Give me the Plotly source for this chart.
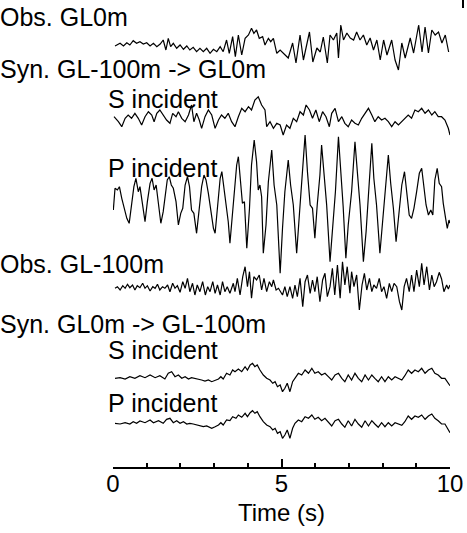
import plotly.graph_objects as go

# ---------------- data (time in s, amplitude in arbitrary units) ----------------
t_obs0 = [0.06,0.11,0.21,0.31,0.41,0.50,0.60,0.70,0.80,0.90,1.00,1.10,1.20,1.30,1.40,1.49,1.57,1.64,1.71,1.79,
          1.89,1.99,2.09,2.19,2.28,2.38,2.48,2.58,2.68,2.78,2.88,2.98,3.08,3.18,3.27,3.37,3.45,3.55,3.63,3.72,
          3.82,3.92,4.02,4.11,4.18,4.26,4.34,4.44,4.51,4.61,4.68,4.76,4.86,4.96,5.06,5.20,5.33,5.43,5.55,5.65,
          5.83,5.93,6.05,6.15,6.24,6.36,6.44,6.54,6.64,6.69,6.76,6.84,6.94,7.04,7.14,7.23,7.33,7.43,7.53,7.63,
          7.73,7.83,7.93,8.03,8.13,8.27,8.37,8.47,8.57,8.67,8.82,8.92,9.07,9.17,9.26,9.36,9.46,9.56,9.66,9.76,
          9.86,9.96]
a_obs0 = [-1,0,1.7,-1,2.3,0,4.3,1.7,3.3,1,2.3,-1,1.7,-1.7,1,5,-5,6.7,-1.7,1.7,
          -3.3,0,-4.3,-1,-5,-2.3,-6.7,-3.3,-6.7,-3.3,-8.3,-4.3,-6.7,-1.7,-6.7,5,-8.3,8.3,-11.7,10,
          -10,6.7,10,16.7,11.7,15,6.7,8.3,0,6.7,3.3,6.7,-8.3,-5,-8,-13,2,-18,10,-15,
          13,-17,-3,-7,8,-18,10,5,12,-13,20,5,12,7,5,13,5,10,0,7,
          -5,5,-15,5,-10,5,-15,-25,2,-13,7,-8,20,-7,18,-8,15,10,13,2,
          10,-7]

t_synS0 = [0.03,0.16,0.26,0.36,0.45,0.55,0.65,0.75,0.85,0.95,1.05,1.15,1.22,1.30,1.39,1.49,1.59,1.69,1.77,1.87,
           1.94,2.04,2.14,2.24,2.33,2.40,2.48,2.56,2.63,2.73,2.83,2.93,3.03,3.13,3.22,3.32,3.42,3.52,3.62,3.72,
           3.82,3.92,4.02,4.11,4.21,4.31,4.41,4.51,4.56,4.66,4.76,4.86,4.96,5.05,5.15,5.25,5.35,5.45,5.55,5.65,
           5.73,5.83,5.92,6.02,6.12,6.22,6.32,6.42,6.49,6.59,6.69,6.79,6.88,6.98,7.08,7.18,7.28,7.38,7.48,7.58,
           7.68,7.77,7.87,7.97,8.07,8.17,8.27,8.37,8.47,8.57,8.66,8.76,8.86,8.96,9.06,9.16,9.26,9.36,9.46,9.55,
           9.65,9.75,9.85,9.95,10.0]
a_synS0 = [1.3,-3.7,-8.7,-0.3,3,-0.3,4.7,-0.3,-7,1.3,6.3,3,-3.7,4.7,8,3,-2,-5.3,4.7,1.3,
           6.3,-0.3,-3.7,3,13,-3.7,4.7,-2,-10.3,1.3,8,3,-10.3,-2,3,-0.3,4.7,-3.7,-8.7,1.3,
           9.7,6.3,11.3,8,18,21.3,13,8,-8.7,-3.7,-10.3,-5.3,-7,-17,-7,-10.3,-0.3,-3.7,6.3,3,
           13,8,-0.3,8,-3.7,6.3,1.3,-8.7,4.7,9.7,-3.7,1.3,-5.3,-8.7,-2,-5.3,-7,-0.3,4.7,9.7,
           3,-3.7,1.3,-2,-0.3,-3.7,-8.7,-3.7,-7,-3.7,-0.3,3,-0.3,8,6.3,9.7,4.7,8,3,6.3,
           1.3,1.3,-2,-10.3,-17]

t_synP0 = [0.01,0.06,0.13,0.19,0.26,0.33,0.41,0.48,0.55,0.62,0.68,0.75,0.80,0.88,0.95,1.02,1.10,1.16,1.22,1.28,
           1.35,1.42,1.49,1.54,1.61,1.67,1.73,1.79,1.87,1.94,2.01,2.07,2.14,2.21,2.27,2.33,2.40,2.48,2.56,2.63,
           2.70,2.76,2.83,2.90,2.98,3.03,3.10,3.18,3.23,3.29,3.35,3.42,3.47,3.55,3.62,3.67,3.72,3.77,3.84,3.90,
           3.97,4.05,4.11,4.19,4.26,4.31,4.36,4.41,4.46,4.54,4.61,4.71,4.78,4.86,4.96,5.03,5.10,5.20,5.27,5.35,
           5.45,5.53,5.60,5.70,5.77,5.85,5.92,5.99,6.06,6.14,6.19,6.26,6.34,6.44,6.52,6.60,6.69,6.76,6.83,6.91,
           6.98,7.08,7.18,7.25,7.33,7.43,7.51,7.58,7.68,7.74,7.82,7.92,8.00,8.07,8.17,8.24,8.32,8.40,8.47,8.57,
           8.65,8.71,8.79,8.86,8.93,9.01,9.09,9.16,9.23,9.29,9.36,9.43,9.49,9.55,9.62,9.68,9.75,9.80,9.87,9.92,
           9.97,10.0]
a_synP0 = [-10,11.7,10,13.3,1.7,-8.3,-18.3,-23.3,-5,13.3,21.7,8.3,13.3,-6.7,-21.7,-1.7,16.7,21.7,10,15,
           -5,-23.3,-11.7,1.7,20,23.3,15,11.7,-1.7,-25,-13.3,-8.3,15,23.3,13.3,-10,-13.3,-33.3,-10,13.3,
           25,20,6.7,-8.3,-28.3,-33.3,-10,21.7,28.3,13.3,-1.7,-21.7,-43.3,-8.3,13.3,35,43.3,25,-3.3,-1.7,
           -48.3,-8.3,35,60,38.3,10,15,3.3,-53.3,-25,18.3,50,15,-5,-73.3,-28.3,8.3,40,15,-5,
           -53.3,-15,15,65,28.3,-5,-8.3,-38.3,-5,25,55,25,-5,-61.7,-25,8.3,63.3,28.3,-6.7,-58.3,
           -25,8.3,58.3,28.3,-5,-61.7,-31.7,5,56.7,21.7,-5,-53.3,-21.7,5,45,16.7,-8.3,-41.7,-15,15,
           28.3,8.3,-15,-18.3,-8.3,8.3,26.7,31.7,13.3,-5,-15,-10,-15,20,31.7,16.7,13.3,-3.3,-18.3,-28.3,
           -20,-23.3]

t_obs100 = [0.06,0.13,0.21,0.29,0.36,0.43,0.50,0.58,0.65,0.72,0.80,0.88,0.95,1.02,1.10,1.18,1.25,1.32,1.39,1.47,
            1.54,1.62,1.69,1.77,1.84,1.91,1.99,2.07,2.14,2.21,2.28,2.36,2.43,2.50,2.58,2.66,2.74,2.81,2.88,2.96,
            3.03,3.10,3.18,3.25,3.32,3.39,3.47,3.57,3.62,3.69,3.77,3.85,3.92,3.99,4.05,4.11,4.18,4.26,4.34,4.41,
            4.48,4.56,4.64,4.71,4.76,4.84,4.91,5.03,5.10,5.17,5.25,5.33,5.40,5.47,5.55,5.63,5.70,5.77,5.85,5.92,
            5.99,6.06,6.14,6.22,6.29,6.36,6.44,6.51,6.58,6.66,6.74,6.81,6.88,6.95,7.03,7.08,7.15,7.23,7.31,7.39,
            7.46,7.53,7.61,7.68,7.74,7.82,7.90,7.97,8.04,8.12,8.20,8.27,8.34,8.42,8.50,8.57,8.64,8.71,8.79,8.86,
            8.93,9.01,9.09,9.16,9.23,9.31,9.39,9.46,9.53,9.60,9.68,9.75,9.82,9.90,9.95,10.0]
a_obs100 = [-0.3,1.3,-2,2.3,-0.3,3.7,0.3,3,-2,2.3,0.3,4.7,-0.3,2.3,-3,1.3,-0.3,3.7,-2,1.3,
            -0.3,3,-3.7,4.7,-0.3,2.3,-4.3,6.3,-0.3,9.7,-3.7,4.7,-7,3,-3.7,6.3,-7,1.3,-3.7,6.3,
            -5.3,3,-7,6.3,-3.7,1.3,-5.3,4.7,-3.7,9.7,-7,11.3,21.3,1.3,16.3,-10.3,11.3,8,13,-2,
            9.7,-3.7,6.3,1.3,8,-2,-0.3,-7,1.3,-8.7,1.3,-10.3,3,-8.7,9.7,-18.7,6.3,13,-5.3,8,
            -3.7,11.3,-13.7,8,14.7,-8.7,1.3,19.7,-7,23,-10.3,26.3,3,21.3,-5.3,16.3,1.3,13,-22,3,
            14.7,-2,9.7,-3.7,3,-0.3,9.7,-3.7,1.3,-10.3,4.7,-3.7,4.7,1.3,-13.7,-22,1.3,9.7,-3.7,13,
            -3.7,18,1.3,24.7,3,21.3,-2,13,1.3,6.3,15.7,9,-3.7,3,-1,3]

t_synS100 = [0.06,0.21,0.36,0.50,0.65,0.80,0.95,1.10,1.25,1.39,1.54,1.64,1.74,1.84,1.94,2.04,2.14,2.24,2.33,2.43,
             2.53,2.63,2.73,2.83,2.93,3.03,3.13,3.20,3.27,3.37,3.47,3.55,3.62,3.72,3.82,3.92,3.99,4.07,4.14,4.21,
             4.28,4.36,4.46,4.56,4.66,4.74,4.81,4.88,4.96,5.03,5.10,5.17,5.25,5.33,5.40,5.50,5.60,5.70,5.80,5.90,
             5.99,6.09,6.19,6.29,6.39,6.49,6.59,6.69,6.79,6.88,6.98,7.08,7.18,7.28,7.38,7.48,7.58,7.68,7.77,7.87,
             7.97,8.07,8.17,8.27,8.37,8.47,8.57,8.66,8.76,8.86,8.96,9.06,9.16,9.26,9.36,9.46,9.55,9.65,9.75,9.85,
             9.95,10.0]
a_synS100 = [-0.3,0.3,-1,1.3,-0.3,2.3,0.3,3,0.3,2.3,-1,4.7,6.3,1.3,3,-0.3,1.3,-1,0.3,-0.3,
             -1,-2,-3,-2,-3.7,-2,-1,1.3,-1,4.7,3,8,6.3,9,6.3,11.3,8,13,14.7,11.3,
             13,8,3,-0.3,-2,-5.3,-3.7,-8.7,-7,-13.7,-10.3,-5.3,-13.7,-3.7,-0.3,4.7,3,8,4.7,9.7,
             4.7,6.3,3,4.7,1.3,-2,3,4.7,-0.3,-3.7,3,-2,4.7,-0.3,-3.7,3,-2,3,-0.3,-3.7,
             1.3,-3.7,1.3,-2,1.3,-0.3,-2,2.3,8,4.7,8,6.3,9.7,4.7,8,9.7,4.7,3,-0.3,-0.3,
             -5.3,-7.7]

t_synP100 = [0.06,0.21,0.36,0.50,0.60,0.70,0.80,0.95,1.10,1.20,1.35,1.49,1.59,1.69,1.79,1.89,1.99,2.09,2.19,2.28,
             2.38,2.53,2.68,2.78,2.93,3.03,3.13,3.20,3.27,3.37,3.47,3.55,3.65,3.72,3.82,3.92,3.99,4.07,4.14,4.21,
             4.28,4.36,4.46,4.56,4.66,4.74,4.81,4.88,4.96,5.03,5.10,5.17,5.25,5.33,5.40,5.50,5.60,5.70,5.80,5.90,
             5.99,6.09,6.19,6.29,6.39,6.49,6.59,6.69,6.79,6.88,6.98,7.08,7.18,7.28,7.38,7.48,7.58,7.68,7.77,7.87,
             7.97,8.07,8.17,8.27,8.37,8.47,8.57,8.66,8.76,8.86,8.96,9.06,9.16,9.26,9.36,9.46,9.55,9.65,9.75,9.85,
             9.95,10.0]
a_synP100 = [0.7,0,1.3,0,2.3,0.7,3,1.3,4,1.3,3.3,0.7,4.7,5.7,1.3,3.3,0.7,2.3,0,0.7,
             0,-1,-2.7,-2,-4.3,-2.7,-1,1.3,-1,4,3.3,7.3,5.7,9,6.7,10.7,7.3,11.3,13.3,10.7,
             12.3,7.3,2.3,-1,-2.7,-6,-4.3,-9.3,-7.7,-14.3,-11,-6,-14.3,-4.3,0.7,4,2.3,7.3,5.7,9,
             4.7,6.7,3.3,5.7,1.3,-2,3.3,4.7,0,-3.3,3.3,-2,4.7,0,-3.3,3.3,-2,3.3,0,-3.3,
             1.3,-2.7,1.3,-2,1.3,0,-1.3,2.3,8,4.7,8,6.7,9,4.7,8,10,5.7,3.3,0,0,
             -5.3,-8.7]

traces = [(t_obs0, a_obs0), (t_synS0, a_synS0), (t_synP0, a_synP0),
          (t_obs100, a_obs100), (t_synS100, a_synS100), (t_synP100, a_synP100)]

labels = ["Obs. GL0m", "Syn. GL-100m -> GL0m", "S incident", "P incident",
          "Obs. GL-100m", "Syn. GL0m -> GL-100m", "S incident", "P incident"]

x_ticks = [0, 5, 10]
x_title = "Time (s)"

# ---------------- layout constants ----------------
W, H = 467, 533
ML, MR, MT, MB = 113, 17, 0, 66
PH = H - MT - MB           # plot height in px; y axis in px units (up)
PW = W - ML - MR
baselines_px = [45, 118, 200, 288, 378, 424]
label_pos = [(-2, 17.5), (-2, 68.5), (105.5, 98.5), (105.5, 168.5),
             (-2, 263.5), (-2, 324), (105.5, 349.5), (105.5, 403)]
FONT = "Liberation Sans, Arial, Helvetica, sans-serif"
FS = 25


def px_x(px):
    return (px - ML) / PW


def px_y(py):
    return (PH - py) / PH


fig = go.Figure()
for (t, a), b in zip(traces, baselines_px):
    off = PH - b
    fig.add_trace(go.Scatter(x=t, y=[off + v for v in a], mode="lines",
                             line=dict(color="black", width=1.2),
                             hoverinfo="skip", showlegend=False))

for txt, (px, py) in zip(labels, label_pos):
    fig.add_annotation(text=txt, xref="paper", yref="paper",
                       x=px_x(px), y=px_y(py), xanchor="left", yanchor="middle",
                       showarrow=False, font=dict(family=FONT, size=FS, color="black"))

fig.add_annotation(text=x_title, xref="paper", yref="paper", x=0.5, y=px_y(512),
                   xanchor="center", yanchor="middle", showarrow=False,
                   font=dict(family=FONT, size=FS - 1, color="black"))

# small mark at top-right corner
fig.add_shape(type="line", xref="paper", yref="paper", x0=px_x(463), x1=px_x(463),
              y0=px_y(0), y1=px_y(8), line=dict(color="black", width=2))

fig.update_layout(
    width=W, height=H, margin=dict(l=ML, r=MR, t=MT, b=MB, autoexpand=False),
    paper_bgcolor="white", plot_bgcolor="white", showlegend=False,
    xaxis=dict(range=[0, 10], tickvals=x_ticks, ticktext=[str(v) for v in x_ticks],
               automargin=False,
               showgrid=False, zeroline=False, showline=True, linecolor="black", linewidth=1.5,
               ticks="inside", ticklen=8, tickwidth=1.5, tickcolor="black",
               ticklabelstandoff=-6,
               tickfont=dict(family=FONT, size=FS - 1, color="black"),
               minor=dict(dtick=1, ticks="inside", ticklen=4, tickwidth=1.5, tickcolor="black",
                          showgrid=False)),
    yaxis=dict(range=[0, PH], visible=False, showgrid=False, zeroline=False, automargin=False),
)

fig.write_html("out.html", config={"displayModeBar": False},
               post_script="document.body.style.margin='0';document.body.style.overflow='hidden';")
